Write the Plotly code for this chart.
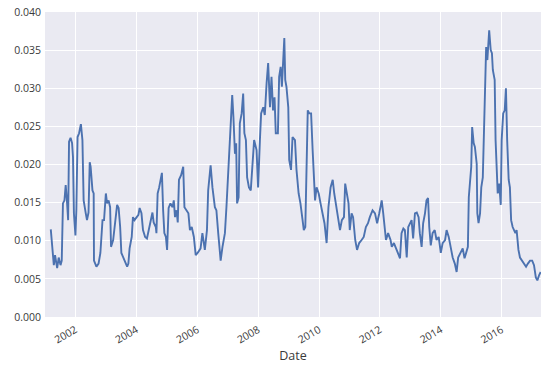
import pandas as pd
import plotly.graph_objects as go

# decimal-year positions of the traced observations
date_years = [
    2001.19, 2001.23, 2001.29, 2001.33, 2001.40, 2001.45, 2001.51, 2001.55, 2001.59, 2001.64,
    2001.68, 2001.72, 2001.76, 2001.79, 2001.84, 2001.89, 2001.92, 2001.95, 2002.00, 2002.03,
    2002.07, 2002.12, 2002.18, 2002.23, 2002.27, 2002.34, 2002.38, 2002.43, 2002.47, 2002.50,
    2002.56, 2002.60, 2002.61, 2002.69, 2002.76, 2002.82, 2002.89, 2002.94, 2003.00, 2003.04,
    2003.09, 2003.14, 2003.17, 2003.24, 2003.30, 2003.37, 2003.42, 2003.47, 2003.51, 2003.59,
    2003.65, 2003.70, 2003.74, 2003.78, 2003.85, 2003.89, 2003.94, 2004.00, 2004.07, 2004.11,
    2004.17, 2004.22, 2004.29, 2004.35, 2004.42, 2004.48, 2004.53, 2004.57, 2004.64, 2004.66,
    2004.70, 2004.75, 2004.79, 2004.84, 2004.88, 2004.92, 2004.97, 2005.01, 2005.06, 2005.12,
    2005.19, 2005.23, 2005.27, 2005.32, 2005.36, 2005.40, 2005.47, 2005.54, 2005.58, 2005.65,
    2005.71, 2005.76, 2005.82, 2005.89, 2005.95, 2006.03, 2006.11,
    2006.17, 2006.25, 2006.32, 2006.36, 2006.44, 2006.50, 2006.58, 2006.63, 2006.69, 2006.77,
    2006.83, 2006.91, 2006.96, 2007.03, 2007.07, 2007.11, 2007.15, 2007.19, 2007.24, 2007.28,
    2007.31, 2007.36, 2007.40, 2007.46, 2007.51, 2007.55, 2007.60, 2007.64, 2007.70, 2007.76,
    2007.82, 2007.87, 2007.95, 2008.00, 2008.06, 2008.10, 2008.17, 2008.22, 2008.28, 2008.33,
    2008.39, 2008.44, 2008.49, 2008.54, 2008.58, 2008.65, 2008.69, 2008.74, 2008.78, 2008.82,
    2008.86, 2008.89, 2008.93, 2008.99, 2009.02, 2009.08, 2009.13, 2009.21, 2009.26, 2009.33,
    2009.39, 2009.46, 2009.50, 2009.55, 2009.59, 2009.63, 2009.68, 2009.74, 2009.79, 2009.83,
    2009.87, 2009.92, 2009.99, 2010.05, 2010.12, 2010.18, 2010.25, 2010.31, 2010.38, 2010.45,
    2010.50, 2010.55, 2010.62, 2010.69, 2010.75, 2010.82, 2010.86, 2010.91, 2010.97, 2011.01,
    2011.07, 2011.12, 2011.19, 2011.25, 2011.32, 2011.40, 2011.47, 2011.54, 2011.61, 2011.67,
    2011.76, 2011.84, 2011.91, 2011.98, 2012.06, 2012.11, 2012.16, 2012.20, 2012.27, 2012.35,
    2012.39, 2012.46, 2012.53, 2012.59, 2012.66, 2012.71, 2012.77, 2012.82, 2012.88, 2012.93,
    2012.99, 2013.04, 2013.09, 2013.15, 2013.21, 2013.27, 2013.31, 2013.37, 2013.42, 2013.48,
    2013.53, 2013.58, 2013.62, 2013.67, 2013.73, 2013.80, 2013.86, 2013.93, 2014.00, 2014.06,
    2014.14, 2014.19, 2014.26, 2014.32, 2014.39, 2014.46, 2014.52, 2014.57, 2014.65, 2014.72,
    2014.78, 2014.85, 2014.89, 2014.92, 2014.96, 2015.00, 2015.03, 2015.08, 2015.12, 2015.18,
    2015.20, 2015.24, 2015.29, 2015.33, 2015.38, 2015.40, 2015.44, 2015.46, 2015.49, 2015.53,
    2015.56, 2015.59, 2015.64, 2015.68, 2015.71, 2015.77, 2015.80, 2015.84, 2015.87, 2015.92,
    2015.97, 2016.00, 2016.05, 2016.10, 2016.14, 2016.18, 2016.23, 2016.27, 2016.31, 2016.36,
    2016.40, 2016.45, 2016.49, 2016.55, 2016.60, 2016.67, 2016.73, 2016.80, 2016.86, 2016.93,
    2017.00, 2017.06, 2017.12, 2017.17, 2017.23, 2017.28,
]

# rolling volatility values
vol = [
    0.0115, 0.0094, 0.0068, 0.0081, 0.0064, 0.0078, 0.0068, 0.0074, 0.0149, 0.0153,
    0.0173, 0.0153, 0.0127, 0.0230, 0.0235, 0.0228, 0.0210, 0.0136, 0.0107, 0.0140,
    0.0236, 0.0241, 0.0253, 0.0232, 0.0153, 0.0136, 0.0127, 0.0137, 0.0203, 0.0197,
    0.0166, 0.0162, 0.0074, 0.0066, 0.0070, 0.0084, 0.0127, 0.0127, 0.0162, 0.0149,
    0.0153, 0.0144, 0.0092, 0.0101, 0.0127, 0.0147, 0.0143, 0.0118, 0.0084, 0.0077,
    0.0072, 0.0066, 0.0070, 0.0090, 0.0105, 0.0131, 0.0127, 0.0131, 0.0134, 0.0143,
    0.0136, 0.0114, 0.0105, 0.0103, 0.0118, 0.0127, 0.0137, 0.0124, 0.0118, 0.0110,
    0.0162, 0.0170, 0.0180, 0.0189, 0.0140, 0.0110, 0.0105, 0.0088, 0.0143, 0.0149,
    0.0144, 0.0153, 0.0131, 0.0140, 0.0124, 0.0180, 0.0186, 0.0197, 0.0144, 0.0140,
    0.0136, 0.0114, 0.0118, 0.0105, 0.0081, 0.0085, 0.0090,
    0.0110, 0.0088, 0.0114, 0.0166, 0.0199, 0.0170, 0.0144, 0.0140, 0.0110, 0.0074,
    0.0092, 0.0110, 0.0144, 0.0201, 0.0236, 0.0249, 0.0291, 0.0262, 0.0214, 0.0228,
    0.0149, 0.0157, 0.0254, 0.0267, 0.0293, 0.0241, 0.0232, 0.0183, 0.0170, 0.0166,
    0.0201, 0.0232, 0.0219, 0.0170, 0.0232, 0.0267, 0.0275, 0.0265, 0.0307, 0.0333,
    0.0275, 0.0315, 0.0271, 0.0288, 0.0241, 0.0241, 0.0315, 0.0328, 0.0302, 0.0333,
    0.0366, 0.0311, 0.0302, 0.0275, 0.0206, 0.0193, 0.0236, 0.0232, 0.0193, 0.0162,
    0.0149, 0.0127, 0.0114, 0.0118, 0.0189, 0.0271, 0.0267, 0.0267, 0.0219, 0.0175,
    0.0153, 0.0170, 0.0162, 0.0149, 0.0136, 0.0123, 0.0097, 0.0144, 0.0170, 0.0180,
    0.0162, 0.0149, 0.0136, 0.0114, 0.0127, 0.0131, 0.0175, 0.0162, 0.0149, 0.0114,
    0.0136, 0.0131, 0.0101, 0.0088, 0.0097, 0.0101, 0.0105, 0.0118, 0.0123, 0.0131,
    0.0140, 0.0136, 0.0123, 0.0136, 0.0153, 0.0136, 0.0118, 0.0101, 0.0110, 0.0101,
    0.0092, 0.0097, 0.0090, 0.0084, 0.0077, 0.0110, 0.0116, 0.0114, 0.0078, 0.0118,
    0.0123, 0.0127, 0.0103, 0.0136, 0.0137, 0.0131, 0.0110, 0.0092, 0.0123, 0.0136,
    0.0153, 0.0156, 0.0118, 0.0094, 0.0110, 0.0114, 0.0101, 0.0105, 0.0084, 0.0097,
    0.0101, 0.0114, 0.0105, 0.0092, 0.0078, 0.0070, 0.0059, 0.0078, 0.0084, 0.0090,
    0.0077, 0.0088, 0.0092, 0.0157, 0.0180, 0.0197, 0.0249, 0.0228, 0.0223, 0.0201,
    0.0136, 0.0123, 0.0136, 0.0170, 0.0183, 0.0219, 0.0254, 0.0324, 0.0354, 0.0337,
    0.0363, 0.0376, 0.0350, 0.0346, 0.0324, 0.0311, 0.0232, 0.0189, 0.0162, 0.0175,
    0.0147, 0.0232, 0.0267, 0.0271, 0.0300, 0.0232, 0.0180, 0.0170, 0.0127, 0.0118,
    0.0114, 0.0110, 0.0114, 0.0088, 0.0078, 0.0074, 0.0070, 0.0066, 0.0070, 0.0074,
    0.0074, 0.0068, 0.0052, 0.0048, 0.0055, 0.0059,
]

x_start_year = 2001.0
x_end_year = 2017.29
tick_years = [2002, 2004, 2006, 2008, 2010, 2012, 2014, 2016]
y_ticks = [0.000, 0.005, 0.010, 0.015, 0.020, 0.025, 0.030, 0.035, 0.040]


def to_ts(y):
    yr = int(y)
    start = pd.Timestamp(year=yr, month=1, day=1)
    end = pd.Timestamp(year=yr + 1, month=1, day=1)
    return start + (end - start) * (y - yr)


dates = [to_ts(y) for y in date_years]

fig = go.Figure()
fig.add_trace(go.Scatter(
    x=dates, y=vol, mode="lines",
    line=dict(color="#4C72B0", width=1.9),
    showlegend=False,
))

font_family = "Open Sans, DejaVu Sans, sans-serif"
fig.update_layout(
    width=550, height=365,
    margin=dict(l=45, r=9, t=12, b=48),
    paper_bgcolor="white",
    plot_bgcolor="#EAEAF2",
    font=dict(family=font_family, size=11, color="#3a3a3a"),
    xaxis=dict(
        range=[to_ts(x_start_year), to_ts(x_end_year)],
        tickvals=[pd.Timestamp(year=t, month=1, day=1) for t in tick_years],
        ticktext=[str(t) for t in tick_years],
        tickangle=-30,
        showgrid=True, gridcolor="white", gridwidth=1,
        zeroline=False, showline=False,
        automargin=False,
        ticklabelstandoff=4,
        title=dict(text="Date", font=dict(size=12.5, color="#3a3a3a"), standoff=5),
        tickfont=dict(size=10.5),
    ),
    yaxis=dict(
        range=[0, 0.040],
        tickvals=y_ticks,
        tickformat=".3f",
        showgrid=True, gridcolor="white", gridwidth=1,
        zeroline=False, showline=False,
        automargin=False,
        tickfont=dict(size=10.5),
        ticklabelstandoff=3,
    ),
)

fig.write_html(
    "out.html",
    config={"displayModeBar": False},
    post_script="document.body.style.margin='0';document.body.style.overflow='hidden';",
)
